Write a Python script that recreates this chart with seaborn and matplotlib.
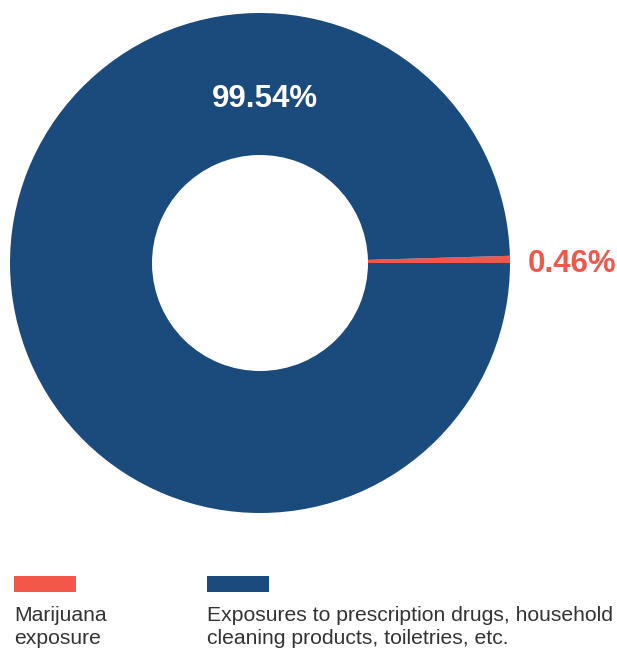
import matplotlib
matplotlib.use("Agg")
import matplotlib.pyplot as plt
import seaborn as sns
from matplotlib.patches import Rectangle

# data
labels = ["Marijuana\nexposure",
          "Exposures to prescription drugs, household\ncleaning products, toiletries, etc."]
shares = [0.46, 99.54]
colors = ["#F2574A", "#1B4A7C"]

sns.set_theme(style="white")
plt.rcParams['font.family'] = ['Liberation Sans', 'DejaVu Sans']

fig = plt.figure(figsize=(6.17, 6.48), dpi=100)
ax = fig.add_axes([10/617, 135/648, 500/617, 500/648])

wedges, _ = ax.pie(shares, colors=colors, startangle=0, counterclock=True,
                   radius=1.0, wedgeprops=dict(width=0.568, linewidth=0))
ax.set_xlim(-1, 1)
ax.set_ylim(-1, 1)
ax.set_aspect('equal')
ax.axis('off')

# slice labels
ax.text(0.02, 0.655, f"{shares[1]:.2f}%", color='white', fontsize=22.5,
        fontweight='bold', ha='center', va='center')
ax.text(1.248, -0.005, f"{shares[0]:.2f}%", color=colors[0], fontsize=22.5,
        fontweight='bold', ha='center', va='center')

# legend below chart: swatch on top, label under it
legend_x = [14, 207]
for x, lab, c in zip(legend_x, labels, colors):
    fig.add_artist(Rectangle((x/617, 1 - 592/648), 62/617, 16/648,
                             transform=fig.transFigure, color=c, lw=0))
    fig.text(x/617, 1 - 606/648, lab, ha='left', va='top', fontsize=15.2,
             color='#333333', linespacing=1.3)

fig.savefig("out.png", dpi=100)
